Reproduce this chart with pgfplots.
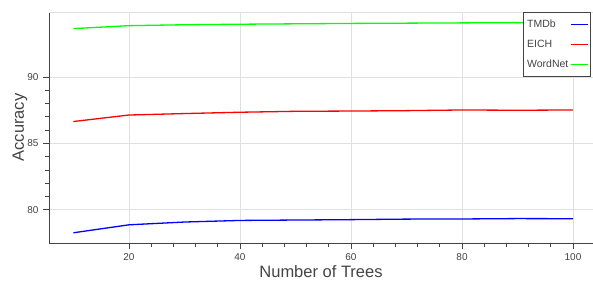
\documentclass[border=0pt]{standalone}
\usepackage{fontspec}
\setmainfont{Liberation Sans}
\usepackage{pgfplots}
\pgfplotsset{compat=1.18}
\definecolor{txt}{HTML}{444444}
\definecolor{gridc}{HTML}{E0E0E0}
\begin{document}
\begin{tikzpicture}[x=1pt,y=1pt]
\path[use as bounding box] (0,0) rectangle (593,285);
\begin{axis}[
  at={(49pt,42pt)}, anchor=origin,
  scale only axis, width=544pt, height=231pt,
  xmin=5.6, xmax=103.6, ymin=77.5, ymax=94.9,
  xtick={20,40,60,80,100}, ytick={80,85,90},
  minor x tick num=4, minor y tick num=4,
  axis x line*=bottom, axis y line*=left,
  axis line style={txt, line width=0.9pt, -},
  tick style={txt, line width=0.8pt},
  tick align=outside,
  major tick length=6pt, minor tick length=4pt,
  xmajorgrids, ymajorgrids,
  grid style={gridc, line width=0.8pt},
  /pgf/number format/assume math mode=true,
  ticklabel style={font=\fontsize{10}{12}\selectfont, text=txt},
  xticklabel style={yshift=-1pt},
  yticklabel style={xshift=-1pt},
  xlabel={Number of Trees}, ylabel={Accuracy},
  every axis x label/.style={at={(rel axis cs:0.5,0)}, yshift=-29pt, anchor=center, font=\fontsize{16.5}{19}\selectfont, text=txt},
  every axis y label/.style={at={(rel axis cs:0,0.5)}, xshift=-29pt, rotate=90, anchor=center, font=\fontsize{16.5}{19}\selectfont, text=txt},
  legend plot pos=right,
  legend cell align=left,
  legend style={at={(rel axis cs:0.996,1)}, anchor=north east, draw=txt, line width=0.8pt,
    font=\fontsize{10.5}{12}\selectfont, text=txt, fill=white,
    row sep=7pt, inner xsep=1.5pt, inner ysep=5.5pt},
  legend image post style={line width=1.5pt},
  clip=false,
]
\draw[gridc, line width=0.8pt] (rel axis cs:0,1) -- (rel axis cs:1,1);
\addplot[color=blue, line width=1.3pt] coordinates {(10,78.27) (20,78.87) (30,79.08) (40,79.20) (50,79.23) (60,79.26) (70,79.30) (80,79.31) (90,79.34) (100,79.33)};
\addlegendentry{TMDb}
\addplot[color=red, line width=1.3pt] coordinates {(10,86.65) (20,87.14) (30,87.25) (40,87.35) (50,87.42) (60,87.44) (70,87.47) (80,87.52) (90,87.50) (100,87.52)};
\addlegendentry{EICH}
\addplot[color=green, line width=1.3pt] coordinates {(10,93.65) (20,93.87) (30,93.94) (40,93.98) (50,94.01) (60,94.04) (70,94.06) (80,94.08) (90,94.10) (100,94.10)};
\addlegendentry{WordNet}
\end{axis}
\end{tikzpicture}
\end{document}
